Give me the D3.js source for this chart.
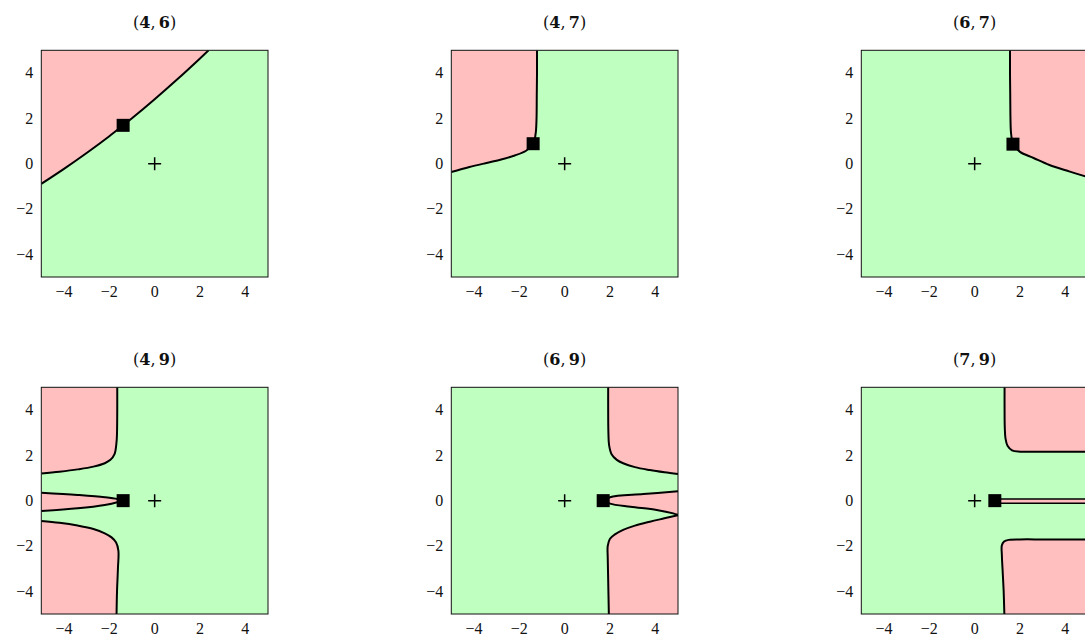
<!DOCTYPE html>
<html><head><meta charset="utf-8">
<script src="https://cdn.jsdelivr.net/npm/d3@7"></script>
<style>html,body{margin:0;padding:0;background:#fff;overflow:hidden}</style>
</head><body>
<svg id="chart" width="1085" height="636"></svg>
<script>
// ---------- data ----------
const titleA = ["4","4","6","4","6","7"];
const titleB = ["6","7","7","9","9","9"];
const tickValues = [-4,-2,0,2,4];
const tickLabels = ["\u22124","\u22122","0","2","4"];
const domain = [-5,5];
const squareX = [-1.39,-1.39,1.69,-1.39,1.70,0.89];
const squareY = [1.69,0.88,0.86,0,0,0];
const plusX = [0,0,0,0,0,0];
const plusY = [0,0,0,0,0,0];

// boundary curves (data coordinates)
const b46 = [[-5,-0.89],[-4,-0.23],[-3,0.47],[-2,1.21],[-1.39,1.69],[-1,2.0],[0,2.84],[1,3.72],[2,4.64],[2.38,5]];
const b47 = [[-1.22,5],[-1.22,4],[-1.23,3],[-1.24,2],[-1.27,1.4],[-1.33,1.05],[-1.45,0.8],[-1.7,0.57],[-2.2,0.36],[-2.8,0.18],[-3.4,0.04],[-4.2,-0.15],[-5,-0.37]];
const b67 = [[1.56,5],[1.56,4],[1.57,3],[1.58,2],[1.6,1.4],[1.65,1.05],[1.78,0.78],[2.0,0.52],[2.6,0.25],[3.3,-0.06],[4.2,-0.35],[5,-0.6]];
const b49up = [[-1.65,5],[-1.65,4],[-1.66,3],[-1.68,2.6],[-1.77,2.05],[-1.95,1.8],[-2.2,1.65],[-2.7,1.5],[-3.4,1.38],[-4.2,1.28],[-5,1.2]];
const b49wedgeTop = [[-5,0.35],[-3.4,0.25],[-2.2,0.15],[-1.65,0.07],[-1.45,0]];
const b49wedgeBot = [[-1.45,0],[-1.65,-0.07],[-2.2,-0.19],[-3.4,-0.34],[-5,-0.46]];
const b49low = [[-5,-0.9],[-4.2,-0.98],[-3.4,-1.1],[-2.7,-1.25],[-2.2,-1.44],[-1.9,-1.62],[-1.7,-1.85],[-1.6,-2.2],[-1.62,-3],[-1.66,-4],[-1.68,-5]];
const b69up = [[1.92,5],[1.92,4],[1.93,3],[1.96,2.45],[2.07,2.05],[2.3,1.8],[2.58,1.65],[3.1,1.48],[3.76,1.35],[4.4,1.25],[5,1.17]];
const b69wedgeTop = [[1.75,0],[2.0,0.15],[3.47,0.29],[5,0.41]];
const b69wedgeBot = [[5,-0.63],[4.79,-0.56],[4.06,-0.41],[2.9,-0.27],[2.0,-0.13],[1.75,0]];
const b69low = [[5,-0.64],[4.4,-0.78],[3.76,-0.93],[3.1,-1.1],[2.58,-1.29],[2.2,-1.5],[2.0,-1.68],[1.9,-2.0],[1.9,-2.5],[1.92,-3.5],[1.95,-5]];
const b79up = [[1.32,5],[1.32,4],[1.33,3.2],[1.36,2.75],[1.45,2.42],[1.65,2.22],[2.0,2.16],[3,2.16],[4,2.16],[5,2.16]];
const b79stripTop = [[1.1,0.07],[5.2,0.07]];
const b79stripBot = [[5.2,-0.12],[1.1,-0.12]];
const b79low = [[5,-1.71],[4,-1.71],[3,-1.71],[2,-1.71],[1.5,-1.73],[1.3,-1.8],[1.2,-1.97],[1.2,-2.4],[1.24,-3.2],[1.28,-4],[1.31,-5]];

// red regions per panel: boundary curves followed by frame corners
const panelRegions = [
  [{curves:[b46], corners:[[-5,5]]}],
  [{curves:[b47], corners:[[-5,5]]}],
  [{curves:[b67], corners:[[5,5]]}],
  [{curves:[b49up], corners:[[-5,5]]},
   {curves:[b49wedgeTop,b49wedgeBot], corners:[]},
   {curves:[b49low], corners:[[-5,-5]]}],
  [{curves:[b69up], corners:[[5,5]]},
   {curves:[b69wedgeTop,b69wedgeBot], corners:[]},
   {curves:[b69low], corners:[[5,-5]]}],
  [{curves:[b79up], corners:[[5,5]]},
   {curves:[b79stripTop,b79stripBot], corners:[], thin:true},
   {curves:[b79low], corners:[[5,-5]]}]
];

// ---------- layout ----------
const size = 226.7, left0 = 41.3, top0 = 50.3, colStep = 410, rowStep = 337;
const svg = d3.select("#chart");
const green = "#bfffbf", red = "#ffbfbf";
const serif = "Liberation Serif";

panelRegions.forEach((regions, i) => {
  const c = i % 3, r = Math.floor(i / 3);
  const L = left0 + c * colStep, T = top0 + r * rowStep;
  const x = d3.scaleLinear().domain(domain).range([L, L + size]);
  const y = d3.scaleLinear().domain(domain).range([T + size, T]);
  const g = svg.append("g");
  const cid = "clip" + i;
  svg.append("clipPath").attr("id", cid).append("rect")
    .attr("x", L).attr("y", T).attr("width", size).attr("height", size);
  const inner = g.append("g").attr("clip-path", `url(#${cid})`);

  inner.append("rect").attr("x", L).attr("y", T).attr("width", size).attr("height", size)
    .attr("fill", green);

  const line = d3.line().x(d => x(d[0])).y(d => y(d[1])).curve(d3.curveCatmullRom.alpha(0.5));

  regions.forEach(reg => {
    let d = "";
    reg.curves.forEach((cv, k) => {
      const s = line(cv);
      d += (k === 0 ? s : "L" + s.slice(1));
    });
    reg.corners.forEach(p => { d += "L" + x(p[0]) + "," + y(p[1]); });
    d += "Z";
    inner.append("path").attr("d", d).attr("fill", red).attr("stroke", "none");
    reg.curves.forEach(cv => {
      inner.append("path").attr("d", line(cv)).attr("fill", "none")
        .attr("stroke", "#000").attr("stroke-width", reg.thin ? 1.5 : 2)
        .attr("stroke-linejoin", "round");
    });
  });

  // frame
  g.append("rect").attr("x", L).attr("y", T).attr("width", size).attr("height", size)
    .attr("fill", "none").attr("stroke", "#111").attr("stroke-width", 1);

  // tick labels
  const ax = g.append("g").attr("font-family", serif).attr("font-size", 16).attr("fill", "#111");
  tickValues.forEach((v, k) => {
    ax.append("text").attr("x", x(v)).attr("y", T + size + 19.5)
      .attr("text-anchor", "middle").text(tickLabels[k]);
    ax.append("text").attr("x", L - 8).attr("y", y(v) + 5.5)
      .attr("text-anchor", "end").text(tickLabels[k]);
  });

  // title
  const t = g.append("text").attr("x", L + size / 2).attr("y", T - 22)
    .attr("text-anchor", "middle").attr("font-family", "DejaVu Serif")
    .attr("font-size", 16).attr("fill", "#111");
  t.append("tspan").text("(");
  t.append("tspan").attr("font-weight", "bold").text(titleA[i]);
  t.append("tspan").text(",\u2009");
  t.append("tspan").attr("font-weight", "bold").text(titleB[i]);
  t.append("tspan").text(")");

  // markers
  const px = x(plusX[i]), py = y(plusY[i]);
  g.append("path").attr("d", `M${px-6.5},${py}H${px+6.5}M${px},${py-6.5}V${py+6.5}`)
    .attr("stroke", "#000").attr("stroke-width", 1.5).attr("fill", "none");
  g.append("rect").attr("x", x(squareX[i]) - 6.5).attr("y", y(squareY[i]) - 6.5)
    .attr("width", 13).attr("height", 13).attr("fill", "#000");
});
</script>
</body></html>
